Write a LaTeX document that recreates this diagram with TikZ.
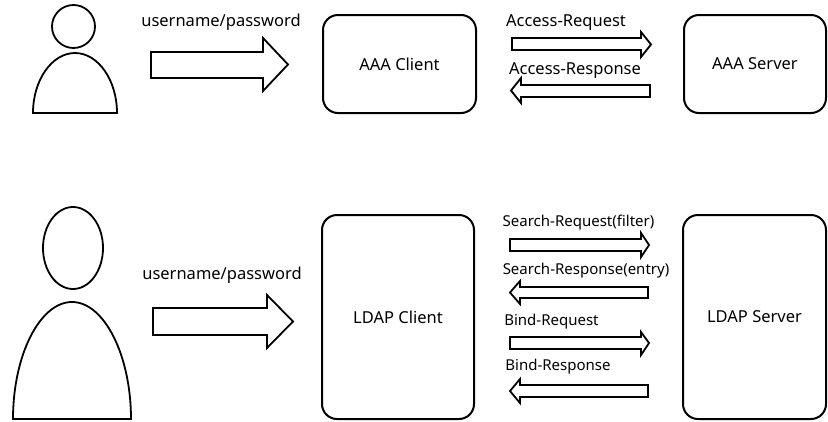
\documentclass[tikz,border=0pt]{standalone}
\usepackage{fontspec}
\setmainfont{Noto Sans}

\tikzset{
  box/.style={draw, line width=2pt, rounded corners=15pt, inner sep=0pt,
    font=\fontsize{16.5}{18}\selectfont},
  fat/.style={draw, line width=1.8pt, line join=miter},
  lbl/.style={inner sep=0pt, font=\fontsize{16.5}{18}\selectfont},
  slbl/.style={inner sep=0pt, font=\fontsize{15}{17}\selectfont},
}

\begin{document}
\begin{tikzpicture}[x=1pt,y=-1pt]
\useasboundingbox (0,0) rectangle (828,421);
% AAA
\draw[fat] (73.5,26.5) circle (21.5);
\draw[fat] (33,113) .. controls (33,80) and (52,53) .. (75,53) .. controls (98,53) and (117,80) .. (117,113) -- cycle;
\draw[fat] (151,52)--(263,52)--(263,38)--(288,64.5)--(263,91)--(263,78)--(151,78)--cycle;
\node[lbl] (up1) at (221,22) {username/password};
\node[box, minimum width=153pt, minimum height=98pt] (aaac) at (399.5,64) {AAA Client};
\node[box, minimum width=142pt, minimum height=98pt] (aaas) at (755,64) {AAA Server};
\draw[fat] (512,38)--(641,38)--(641,32)--(651,44.5)--(641,57)--(641,50)--(512,50)--cycle;
\node[lbl] (areq) at (566,23) {Access-Request};
\draw[fat] (650,85)--(521,85)--(521,78)--(511,90.5)--(521,103)--(521,97)--(650,97)--cycle;
\node[lbl] (ares) at (575,71) {Access-Response};
% LDAP
\draw[fat] (73,248) ellipse (30 and 41);
\draw[fat] (13,419) .. controls (13,355) and (40,302) .. (72,302) .. controls (104,302) and (131,355) .. (131,419) -- cycle;
\draw[fat] (153,308)--(267,308)--(267,295)--(293,321.5)--(267,348)--(267,335)--(153,335)--cycle;
\node[lbl] (up2) at (222,275) {username/password};
\node[box, minimum width=152pt, minimum height=204pt] (ldapc) at (398,317) {LDAP Client};
\node[box, minimum width=143pt, minimum height=204pt] (ldaps) at (754.5,317) {LDAP Server};
\draw[fat] (510,239)--(641,239)--(641,233)--(649,245)--(641,257)--(641,251)--(510,251)--cycle;
\node[slbl] (sreq) at (578.5,223) {Search-Request(filter)};
\draw[fat] (648,287)--(520,287)--(520,281)--(510,292.5)--(520,304)--(520,298)--(648,298)--cycle;
\node[slbl] (sres) at (586,271) {Search-Response(entry)};
\draw[fat] (510,337)--(641,337)--(641,332)--(649,343)--(641,355)--(641,349)--(510,349)--cycle;
\node[slbl] (breq) at (551.5,322) {Bind-Request};
\draw[fat] (648,385)--(520,385)--(520,379)--(510,391)--(520,403)--(520,397)--(648,397)--cycle;
\node[slbl] (bres) at (558,367) {Bind-Response};
\end{tikzpicture}
\end{document}
